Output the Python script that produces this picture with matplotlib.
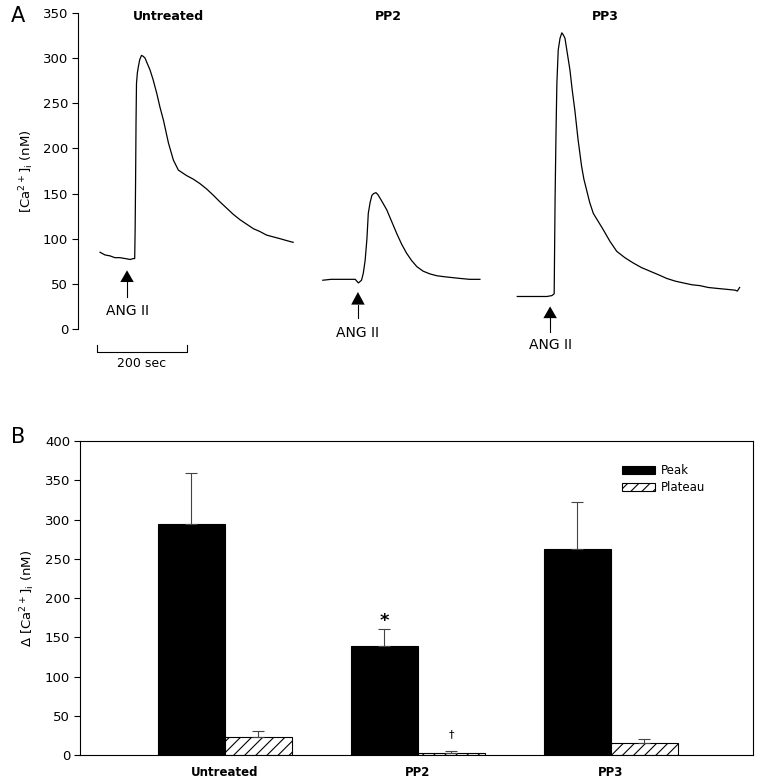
import matplotlib
matplotlib.use('Agg')
import matplotlib.pyplot as plt
import numpy as np

plt.rcParams['font.family'] = ['DejaVu Sans']
plt.rcParams['mathtext.fontset'] = 'dejavusans'
plt.rcParams['hatch.linewidth'] = 0.8

# panel A traces (time in sec, [Ca2+]i in nM)
untreated_t = [49, 60, 71, 82, 93, 105, 116, 123, 126, 127, 128, 129, 130, 132, 134, 137, 141, 145,
               149, 154, 160, 167, 175, 182, 190, 201, 212, 223, 241, 256, 271, 286, 301, 315,
               330, 345, 360, 375, 390, 404, 419, 434, 449, 463, 478]
untreated_ca = [85, 82, 81, 79, 79, 78, 77, 78, 78, 110, 165, 230, 272, 284, 290, 298, 303, 302,
                300, 294, 287, 276, 261, 246, 231, 206, 187, 176, 170, 166, 161, 155, 148, 141,
                134, 127, 121, 116, 111, 108, 104, 102, 100, 98, 96]

pp2_t = [544, 562, 582, 600, 616, 623, 630, 634, 638, 642, 645, 649, 653, 657, 662, 666, 671, 678,
         686, 697, 708, 719, 730, 741, 753, 767, 782, 797, 812, 830, 849, 870, 893]
pp2_ca = [54, 55, 55, 55, 55, 51, 54, 62, 76, 100, 128, 140, 148, 150, 151, 149, 145, 139,
          132, 119, 106, 94, 84, 76, 69, 64, 61, 59, 58, 57, 56, 55, 55]

pp3_t = [976, 994, 1012, 1027, 1042, 1053, 1058, 1060, 1062, 1064, 1067, 1071, 1075, 1078, 1082,
         1087, 1093, 1098, 1104, 1111, 1119, 1124, 1130, 1137, 1145, 1156, 1167, 1182, 1197,
         1215, 1234, 1252, 1271, 1290, 1308, 1327, 1345, 1364, 1382, 1400, 1419, 1440, 1460,
         1465, 1470]
pp3_ca = [36, 36, 36, 36, 36, 37, 39, 143, 215, 272, 309, 322, 328, 326, 322,
          306, 287, 265, 242, 210, 180, 166, 154, 140, 128, 119, 110, 97, 86,
          79, 73, 68, 64, 60, 56, 53, 51, 49, 48, 46, 45, 44, 43, 42, 46]

trace_titles = ['Untreated', 'PP2', 'PP3']
ang_t = [109, 622, 1049]  # time of ANG II addition

# panel B bars
groups = ['Untreated', 'PP2', 'PP3']
peak = [294, 139, 263]
peak_err = [65, 22, 59]
plateau = [23, 3, 15]
plateau_err = [7, 1.5, 5]

fig = plt.figure(figsize=(7.66, 7.82), dpi=100)

# ---------- panel A ----------
axA = fig.add_axes([0.1018, 0.5793, 0.8708, 0.4041])
for t, ca in [(untreated_t, untreated_ca), (pp2_t, pp2_ca), (pp3_t, pp3_ca)]:
    axA.plot(t, ca, color='black', lw=0.9)
axA.set_xlim(0, 1482)
axA.set_ylim(0, 350)
axA.set_yticks(np.arange(0, 351, 50))
axA.set_xticks([])
for s in ['top', 'right', 'bottom']:
    axA.spines[s].set_visible(False)
axA.spines['left'].set_linewidth(0.8)
axA.tick_params(axis='y', direction='out', length=4, width=0.8, labelsize=9.5, pad=3)
axA.set_ylabel('[Ca$^{2+}$]$_\\mathrm{i}$ (nM)', fontsize=9.5, labelpad=5)

# trace titles
for name, x in zip(trace_titles, [200, 689, 1171]):
    axA.text(x, 346, name, ha='center', va='center', fontsize=9, fontweight='bold')

# ANG II arrows: (tip, base, line end, text y)
arrow_geom = [(65, 52, 35, 20), (41, 27, 12, -4), (25, 12, -3, -18)]
for x, (tip, base, end, ty) in zip(ang_t, arrow_geom):
    axA.plot([x, x], [end, base], color='black', lw=0.8, clip_on=False)
    axA.fill([x - 15, x + 15, x], [base, base, tip], color='black', clip_on=False, lw=0)
    axA.text(x, ty, 'ANG II', ha='center', va='center', fontsize=10)

# scale bar
sb_x0, sb_len = 42, 200
axA.plot([sb_x0, sb_x0, sb_x0 + sb_len, sb_x0 + sb_len], [-18, -25.5, -25.5, -18],
         color='black', lw=0.8, clip_on=False)
axA.text(sb_x0 + sb_len / 2, -38, '200 sec', ha='center', va='center', fontsize=9)

fig.text(0.0235, 0.979, 'A', fontsize=15, ha='center', va='center')

# ---------- panel B ----------
axB = fig.add_axes([0.1044, 0.0345, 0.8786, 0.4015])
x = np.arange(len(groups))
w = 0.347
axB.bar(x - w / 2, peak, w, color='black', edgecolor='black', lw=0.8, label='Peak',
        yerr=[[0] * 3, peak_err], error_kw=dict(ecolor='#444444', elinewidth=0.8, capsize=4, capthick=0.8))
axB.bar(x + w / 2, plateau, w, color='white', edgecolor='black', hatch='///', lw=0.8, label='Plateau',
        yerr=[[0] * 3, plateau_err], error_kw=dict(ecolor='#444444', elinewidth=0.8, capsize=4, capthick=0.8))
axB.set_xlim(-0.751, 2.736)
axB.set_ylim(0, 400)
axB.set_yticks(np.arange(0, 401, 50))
axB.set_xticks(x)
axB.set_xticklabels(groups, fontweight='bold', fontsize=8.5)
axB.tick_params(axis='x', length=0, pad=8)
axB.tick_params(axis='y', direction='out', length=4, width=0.8, labelsize=9.5, pad=3)
for s in axB.spines.values():
    s.set_linewidth(0.8)
axB.set_ylabel('Δ [Ca$^{2+}$]$_\\mathrm{i}$ (nM)', fontsize=9.5, labelpad=6)

axB.text(x[1] - w / 2, 171, '*', ha='center', va='center', fontsize=13, fontweight='bold')
axB.text(x[1] + w / 2, 27, '†', ha='center', va='center', fontsize=8)

axB.legend(loc='upper left', bbox_to_anchor=(0.79, 0.96), frameon=False, fontsize=8.5,
           handlelength=2.8, handleheight=0.65, labelspacing=0.3, handletextpad=0.5)

fig.text(0.0235, 0.441, 'B', fontsize=15, ha='center', va='center')

fig.savefig('out.png', dpi=100)
